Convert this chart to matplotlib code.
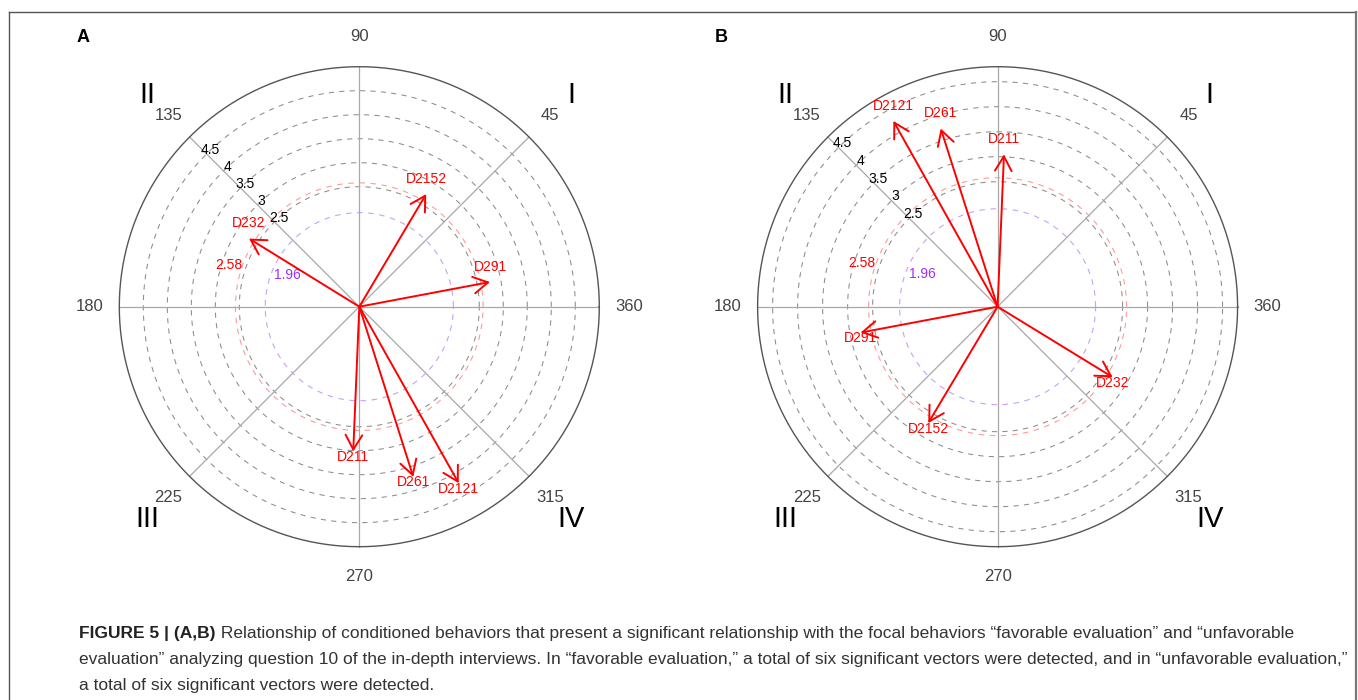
import matplotlib
matplotlib.use("Agg")
import matplotlib.pyplot as plt
from matplotlib.lines import Line2D
import numpy as np

plt.rcParams['font.family'] = ['Liberation Sans', 'DejaVu Sans']

# ---------------- data ----------------
names = ["D232", "D2152", "D291", "D211", "D261", "D2121"]
lengths_A = [2.70, 2.73, 2.77, 3.02, 3.72, 4.22]
angles_A = [148.3, 59.3, 10.7, 267.6, 287.6, 299.4]
lengths_B = [2.70, 2.71, 2.79, 3.05, 3.74, 4.26]
angles_B = [328.5, 239.2, 190.7, 87.6, 107.7, 119.3]

ring_levels = [2.5, 3, 3.5, 4, 4.5]
ring_labels = ["2.5", "3", "3.5", "4", "4.5"]
thresholds = [1.96, 2.58]
threshold_labels = ["1.96", "2.58"]
angle_ticks = [0, 45, 90, 135, 180, 225, 270, 315]
angle_tick_labels = ["360", "45", "90", "135", "180", "225", "270", "315"]
quadrants = ["I", "II", "III", "IV"]
quadrant_angles = [45, 135, 225, 315]

W, H = 1358, 700
fig = plt.figure(figsize=(W / 100, H / 100), dpi=100)


def polar_panel(cx, cy, R, rmax, names, lengths, angles, letter):
    ax = fig.add_axes([(cx - R) / W, (H - cy - R) / H, 2 * R / W, 2 * R / H],
                      projection='polar')
    ax.set_theta_zero_location('E')
    ax.set_ylim(0, rmax)
    ax.axis('off')
    th = np.linspace(0, 2 * np.pi, 721)

    # threshold rings
    thr_colors = ['#c9a0f5', '#ff9a9a']
    for t, c in zip(thresholds, thr_colors):
        ax.plot(th, np.full_like(th, t), color=c, lw=0.8, dashes=(5, 5), clip_on=False)
    # dashed rings
    for r in ring_levels:
        ax.plot(th, np.full_like(th, r), color='#8c8c8c', lw=0.75, dashes=(5, 5), clip_on=False)
    # spokes
    for a in angle_ticks:
        ax.plot([np.radians(a)] * 2, [0, rmax], color='#a8a8a8', lw=0.9, clip_on=False)
    # outer circle
    ax.plot(th, np.full_like(th, rmax), color='#555555', lw=1.0, clip_on=False)

    # angle labels
    for a, lab in zip(angle_ticks, angle_tick_labels):
        ax.text(np.radians(a), rmax * 1.125, lab, ha='center', va='center',
                fontsize=12, color='#444444', clip_on=False)
    # quadrant numerals
    for a, lab in zip(quadrant_angles, quadrants):
        ax.text(np.radians(a), rmax * 1.25, lab, ha='center', va='center',
                fontsize=21, color='black', clip_on=False)
    # ring labels on 135 deg
    for r, lab in zip(ring_levels, ring_labels):
        ax.annotate(lab, xy=(np.radians(135), r), xytext=(3, 3),
                    textcoords='offset points', ha='center', va='center',
                    fontsize=10, color='black')
    # threshold labels
    ax.text(np.radians(156.2), 1.635, threshold_labels[0], ha='center', va='center',
            fontsize=10, color='#9b30ff')
    ax.text(np.radians(162.2), 2.85, threshold_labels[1], ha='center', va='center',
            fontsize=10, color='red')

    # vectors
    for n, r, a in zip(names, lengths, angles):
        t = np.radians(a)
        ax.annotate('', xy=(t, r), xytext=(0, 0),
                    arrowprops=dict(arrowstyle='->,head_length=1.05,head_width=0.6',
                                    color='red', lw=1.4, shrinkA=0, shrinkB=0))
        dy = 11 if np.sin(t) > 0 else -4
        ax.annotate(n, xy=(t, r), xytext=(0, dy), textcoords='offset points',
                    ha='center', va='center', fontsize=10, color='red')

    fig.text((cx - 276.5) / W, 1 - 38 / H, letter, ha='center', va='center',
             fontsize=13, fontweight='bold', color='black')
    return ax


polar_panel(359.3, 306.7, 240, 5.0, names, lengths_A, angles_A, "A")
polar_panel(997.6, 306.7, 240, 4.8, names, lengths_B, angles_B, "B")

# frame
fig.add_artist(Line2D([8.5 / W, 8.5 / W], [1 - 12.3 / H, -0.01], transform=fig.transFigure,
                      color='#555555', lw=1.0))
fig.add_artist(Line2D([8.5 / W, 1355.5 / W], [1 - 12.3 / H, 1 - 12.3 / H],
                      transform=fig.transFigure, color='#555555', lw=1.0))
fig.add_artist(Line2D([1355.5 / W, 1355.5 / W], [1 - 12.3 / H, -0.01],
                      transform=fig.transFigure, color='#777777', lw=1.6))

# caption
cap_bold = "FIGURE 5 | (A,B)"
cap_line1 = (" Relationship of conditioned behaviors that present a significant relationship "
             "with the focal behaviors \u201cfavorable evaluation\u201d and \u201cunfavorable")
cap_line2 = ("evaluation\u201d analyzing question 10 of the in-depth interviews. In \u201cfavorable "
             "evaluation,\u201d a total of six significant vectors were detected, and in "
             "\u201cunfavorable evaluation,\u201d")
cap_line3 = "a total of six significant vectors were detected."

renderer = fig.canvas.get_renderer()
fs = 12
probe = fig.text(0, 0, cap_line2, fontsize=fs)
wpx = probe.get_window_extent(renderer).width
probe.remove()
fs = fs * (1343 - 79) / wpx

x0 = 79 / W
tb = fig.text(x0, 1 - 638 / H, cap_bold, fontsize=fs, fontweight='bold',
              color='#222222', va='baseline')
bw = tb.get_window_extent(renderer).width
fig.text(x0 + bw / W, 1 - 638 / H, cap_line1, fontsize=fs, color='#333333', va='baseline')
fig.text(x0, 1 - 664 / H, cap_line2, fontsize=fs, color='#333333', va='baseline')
fig.text(x0, 1 - 690 / H, cap_line3, fontsize=fs, color='#333333', va='baseline')

fig.savefig("out.png", dpi=100)
